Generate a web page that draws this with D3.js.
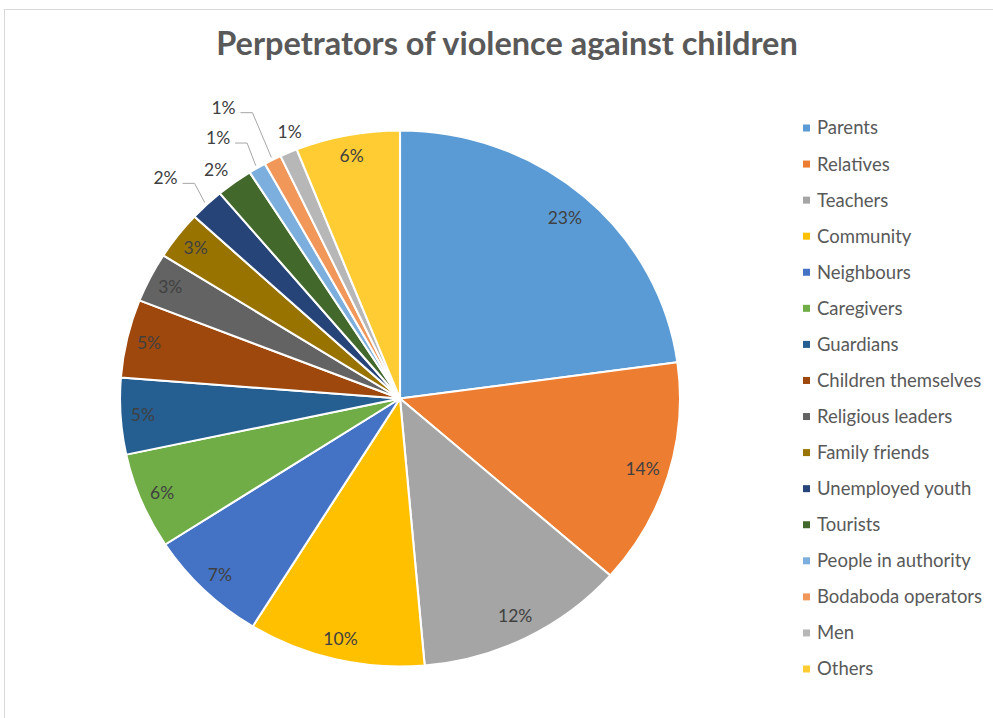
<!DOCTYPE html>
<html>
<head>
<meta charset="utf-8">
<script src="https://cdn.jsdelivr.net/npm/d3@7"></script>
<style>
  body { margin: 0; background: #fff; }
  text { font-family: Lato, "Open Sans", sans-serif; }
</style>
</head>
<body>
<div id="chart"></div>
<script>
// chart data
var categories = ["Parents", "Relatives", "Teachers", "Community", "Neighbours", "Caregivers",
  "Guardians", "Children themselves", "Religious leaders", "Family friends", "Unemployed youth",
  "Tourists", "People in authority", "Bodaboda operators", "Men", "Others"];
var shares = [22.8, 13.6, 12.1, 10.2, 7.0, 5.8, 4.6, 4.7, 3.0, 2.9, 2.0, 2.1, 1.0, 1.0, 1.0, 6.0];
var colors = ["#5B9BD5", "#ED7D31", "#A5A5A5", "#FFC000", "#4472C4", "#70AD47", "#255E91",
  "#9E480E", "#636363", "#997300", "#264478", "#43682B", "#7CAFDD", "#F1975A", "#B7B7B7", "#FFCD33"];
var title = "Perpetrators of violence against children";

function drawChart() {
  var svgWidth = 993;
  var svgHeight = 718;

  var svg = d3.select("#chart")
    .append("svg")
    .attr("width", svgWidth)
    .attr("height", svgHeight);

  // chart area border
  svg.append("rect")
    .attr("x", 4.5).attr("y", 9.5)
    .attr("width", 1200).attr("height", 800)
    .attr("fill", "#fff")
    .attr("stroke", "#D9D9D9");

  svg.append("text")
    .attr("x", 507)
    .attr("y", 55)
    .attr("text-anchor", "middle")
    .attr("font-size", "32.5px")
    .attr("font-weight", "bold")
    .attr("fill", "#595959")
    .text(title);

  // pie is a little wider than it is tall
  var cx = 400, cy = 398.5;
  var ry = 268, rx = 280;
  var sx = rx / ry;

  var rows = categories.map(function(c, i) { return {name: c, value: shares[i], color: colors[i]}; });
  var total = d3.sum(shares);

  var pie = d3.pie().sort(null).value(d => d.value);
  var arcs = pie(rows);

  var arc = d3.arc().innerRadius(0).outerRadius(ry);

  var pieGroup = svg.append("g")
    .attr("transform", `translate(${cx}, ${cy}) scale(${sx}, 1)`);

  pieGroup.selectAll("path")
    .data(arcs)
    .enter()
    .append("path")
    .attr("d", arc)
    .attr("fill", d => d.data.color)
    .attr("stroke", "#fff")
    .attr("stroke-width", 2)
    .attr("stroke-linejoin", "round");

  // point on the pie at a fraction of the radius, along the slice middle (+ shift in degrees)
  function at(d, k, shift) {
    var a = (d.startAngle + d.endAngle) / 2 + (shift || 0) * Math.PI / 180;
    return [cx + Math.sin(a) * ry * k * sx, cy - Math.cos(a) * ry * k];
  }

  // inside labels sit near the rim, a bit further in on the right side
  var inside = {"Parents": 0.895, "Relatives": 0.905, "Teachers": 0.91};
  // small slices get labels outside, some with leader lines
  var outside = {
    "Unemployed youth": [1.173, -1.9, true],
    "Tourists": [1.077, -1.3, false],
    "People in authority": [1.169, -3.1, true],
    "Bodaboda operators": [1.255, -3.1, true],
    "Men": [1.069, 1.8, false]
  };

  var labelGroup = svg.append("g");

  arcs.forEach(function(d) {
    var name = d.data.name;
    var pct = Math.round(d.data.value / total * 100) + "%";
    var o = outside[name];
    var p = o ? at(d, o[0], o[1]) : at(d, inside[name] || 0.92);
    labelGroup.append("text")
      .attr("x", p[0])
      .attr("y", p[1])
      .attr("dy", "0.35em")
      .attr("text-anchor", "middle")
      .attr("font-size", "17.5px")
      .attr("fill", "#404040")
      .text(pct);

    if (o && o[2]) {
      var e = at(d, 1.01);
      var x0 = p[0] + 17, y0 = p[1] + 5;
      labelGroup.append("polyline")
        .attr("points", [[x0, y0], [x0 + 12, y0], e].map(q => q.join(",")).join(" "))
        .attr("fill", "none")
        .attr("stroke", "#A6A6A6")
        .attr("stroke-width", 1);
    }
  });

  // legend
  var legendY = d3.scalePoint()
    .domain(categories)
    .range([128, 669]);

  var legend = svg.append("g").selectAll("g")
    .data(rows)
    .enter()
    .append("g")
    .attr("transform", d => `translate(803, ${legendY(d.name)})`);

  legend.append("rect")
    .attr("x", 0).attr("y", -3.5)
    .attr("width", 7).attr("height", 7)
    .attr("fill", d => d.color);

  legend.append("text")
    .attr("x", 14)
    .attr("y", 0)
    .attr("dy", "0.35em")
    .attr("font-size", "18.5px")
    .attr("fill", "#595959")
    .text(d => d.name);
}

drawChart();
</script>
</body>
</html>
